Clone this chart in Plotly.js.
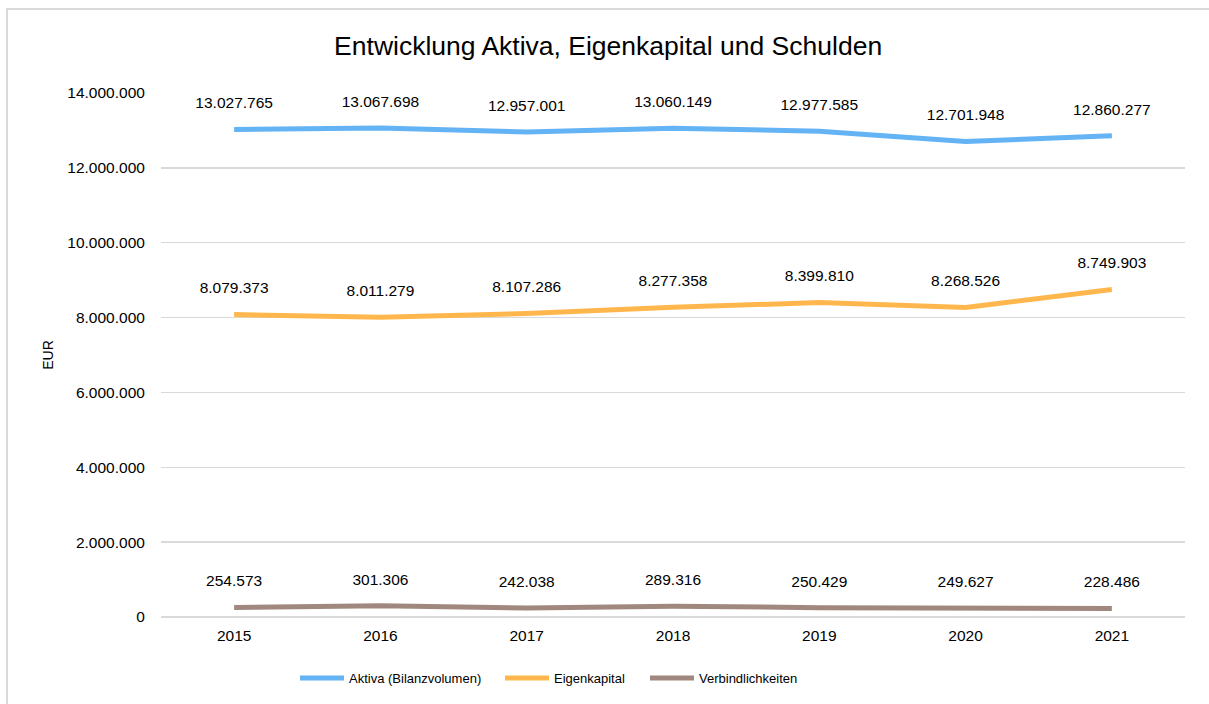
<!DOCTYPE html>
<html>
<head>
<meta charset="utf-8">
<script src="https://cdn.plot.ly/plotly-3.0.1.min.js"></script>
<style>
  html, body { margin: 0; padding: 0; background: #ffffff; overflow: hidden; }
  #frame { position: absolute; left: 6px; top: 8px; width: 1400px; height: 900px; border: 2px solid #d9d9d9; box-sizing: border-box; }
  #chart { position: absolute; left: 0; top: 0; width: 1209px; height: 704px; }
</style>
</head>
<body>
<div id="frame"></div>
<div id="chart"></div>
<script>
const years = ['2015', '2016', '2017', '2018', '2019', '2020', '2021'];
const aktiva = [13027765, 13067698, 12957001, 13060149, 12977585, 12701948, 12860277];
const eigenkapital = [8079373, 8011279, 8107286, 8277358, 8399810, 8268526, 8749903];
const verbindlichkeiten = [254573, 301306, 242038, 289316, 250429, 249627, 228486];

const seriesNames = ['Aktiva (Bilanzvolumen)', 'Eigenkapital', 'Verbindlichkeiten'];
const seriesColors = ['#63B3F5', '#FFB74D', '#A1887F'];
const seriesData = [aktiva, eigenkapital, verbindlichkeiten];
const legendIds = ['legend', 'legend2', 'legend3'];
const legendX = [300, 505, 650];

const font = 'Liberation Sans, Arial, sans-serif';

const lineTraces = seriesData.map((vals, i) => ({
  type: 'scatter',
  mode: 'lines',
  x: years,
  y: vals,
  name: seriesNames[i],
  legend: legendIds[i],
  line: { color: seriesColors[i], width: 5 },
  hoverinfo: 'skip'
}));

const labelTraces = seriesData.map((vals, i) => ({
  type: 'scatter',
  mode: 'markers+text',
  x: years,
  y: vals,
  name: seriesNames[i] + ' labels',
  showlegend: false,
  marker: { size: 26, color: 'rgba(0,0,0,0)' },
  texttemplate: '%{y:,d}',
  textposition: 'top center',
  textfont: { family: font, size: 15.5, color: '#000000' },
  cliponaxis: false,
  hoverinfo: 'skip'
}));

const layout = {
  width: 1209, height: 704,
  paper_bgcolor: 'rgba(0,0,0,0)',
  plot_bgcolor: 'rgba(0,0,0,0)',
  separators: ',.',
  margin: { l: 161, r: 24, t: 93, b: 87 },
  title: {
    text: 'Entwicklung Aktiva, Eigenkapital und Schulden',
    font: { family: font, size: 26.5, color: '#000000' },
    x: 0.503, xanchor: 'center', y: 0.935, yanchor: 'middle'
  },
  font: { family: font, color: '#000000' },
  xaxis: {
    type: 'category',
    range: [-0.5, 6.5],
    showgrid: false, zeroline: false, showline: false,
    ticks: 'outside', ticklen: 4, tickcolor: 'rgba(0,0,0,0)',
    tickfont: { family: font, size: 15.5, color: '#000000' },
    automargin: false
  },
  yaxis: {
    range: [0, 14000000],
    dtick: 2000000,
    tickformat: ',d',
    showgrid: true, gridcolor: '#d9d9d9', gridwidth: 1.5,
    zeroline: true, zerolinecolor: '#d9d9d9', zerolinewidth: 1.5,
    showline: false,
    ticks: 'outside', ticklen: 12, tickcolor: 'rgba(0,0,0,0)',
    tickfont: { family: font, size: 15.5, color: '#000000' },
    title: { text: 'EUR', font: { family: font, size: 14, color: '#000000' }, standoff: 10 },
    automargin: false
  },
  showlegend: true
};

legendIds.forEach((id, i) => {
  layout[id] = {
    orientation: 'h', x: (legendX[i] - 5) / 1209, xref: 'container', xanchor: 'left',
    y: 0.037, yref: 'container', yanchor: 'middle',
    itemwidth: 44,
    font: { family: font, size: 13, color: '#000000' },
    bgcolor: 'rgba(0,0,0,0)'
  };
});

Plotly.newPlot('chart', lineTraces.concat(labelTraces), layout, { displayModeBar: false, staticPlot: true });
</script>
</body>
</html>
